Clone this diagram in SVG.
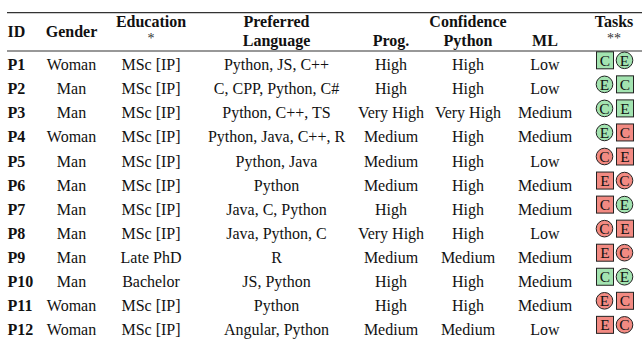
<svg xmlns="http://www.w3.org/2000/svg" width="642" height="341" viewBox="0 0 642 341">
<style>
text{font-family:"Liberation Serif","Times New Roman",serif;font-size:16px;fill:#111}
.h{font-weight:bold}
.m{text-anchor:middle}
.l{text-anchor:start}
.st{font-size:14px;font-weight:normal;fill:#333}
.rule{stroke:#333;stroke-width:1.2}
.g{fill:#a3e3b0;stroke:#222;stroke-width:1}
.r{fill:#f28a82;stroke:#222;stroke-width:1}
.ic{font-size:15.5px;text-anchor:middle}
</style>
<rect width="642" height="341" fill="#fff"/>
<g id="rules">
<line class="rule" x1="7" y1="12.6" x2="642" y2="12.6"/>
<line class="rule" x1="7" y1="51" x2="642" y2="51"/>
</g>
<g id="header">
<text class="h l" x="7.5" y="36.5">ID</text>
<text class="h m" x="71.5" y="36.5">Gender</text>
<text class="h m" x="151" y="27">Education</text>
<text class="st m" x="151" y="43">*</text>
<text class="h m" x="276.5" y="27">Preferred</text>
<text class="h m" x="276.5" y="46">Language</text>
<text class="h m" x="468" y="27">Confidence</text>
<text class="h m" x="391" y="46">Prog.</text>
<text class="h m" x="468" y="46">Python</text>
<text class="h m" x="545" y="46">ML</text>
<text class="h m" x="614" y="27">Tasks</text>
<text class="st m" x="614" y="43">**</text>
</g>
<g id="row1" transform="translate(0,70.3)">
<text class="h l" x="7.5" y="0">P1</text><text class="m" x="71.5" y="0">Woman</text><text class="m" x="151" y="0">MSc [IP]</text><text class="m" x="276.5" y="0">Python, JS, C++</text><text class="m" x="391" y="0">High</text><text class="m" x="468" y="0">High</text><text class="m" x="545" y="0">Low</text>
<rect class="g" x="596.5" y="-18.5" width="17" height="17"/><text class="ic" x="605" y="-4.5">C</text>
<circle class="g" cx="624.5" cy="-10" r="8.3"/><text class="ic" x="624.5" y="-4.5">E</text>
</g>
<g id="row2" transform="translate(0,94.35)">
<text class="h l" x="7.5" y="0">P2</text><text class="m" x="71.5" y="0">Man</text><text class="m" x="151" y="0">MSc [IP]</text><text class="m" x="276.5" y="0">C, CPP, Python, C#</text><text class="m" x="391" y="0">High</text><text class="m" x="468" y="0">High</text><text class="m" x="545" y="0">Low</text>
<circle class="g" cx="604.5" cy="-10" r="8.3"/><text class="ic" x="604.5" y="-4.5">E</text>
<rect class="g" x="616.5" y="-18.5" width="17" height="17"/><text class="ic" x="625" y="-4.5">C</text>
</g>
<g id="row3" transform="translate(0,118.4)">
<text class="h l" x="7.5" y="0">P3</text><text class="m" x="71.5" y="0">Man</text><text class="m" x="151" y="0">MSc [IP]</text><text class="m" x="276.5" y="0">Python, C++, TS</text><text class="m" x="391" y="0">Very High</text><text class="m" x="468" y="0">Very High</text><text class="m" x="545" y="0">Medium</text>
<circle class="g" cx="604.5" cy="-10" r="8.3"/><text class="ic" x="604.5" y="-4.5">C</text>
<rect class="g" x="616.5" y="-18.5" width="17" height="17"/><text class="ic" x="625" y="-4.5">E</text>
</g>
<g id="row4" transform="translate(0,142.45)">
<text class="h l" x="7.5" y="0">P4</text><text class="m" x="71.5" y="0">Woman</text><text class="m" x="151" y="0">MSc [IP]</text><text class="m" x="276.5" y="0">Python, Java, C++, R</text><text class="m" x="391" y="0">Medium</text><text class="m" x="468" y="0">High</text><text class="m" x="545" y="0">Medium</text>
<circle class="g" cx="604.5" cy="-10" r="8.3"/><text class="ic" x="604.5" y="-4.5">E</text>
<rect class="r" x="616.5" y="-18.5" width="17" height="17"/><text class="ic" x="625" y="-4.5">C</text>
</g>
<g id="row5" transform="translate(0,166.5)">
<text class="h l" x="7.5" y="0">P5</text><text class="m" x="71.5" y="0">Man</text><text class="m" x="151" y="0">MSc [IP]</text><text class="m" x="276.5" y="0">Python, Java</text><text class="m" x="391" y="0">Medium</text><text class="m" x="468" y="0">High</text><text class="m" x="545" y="0">Low</text>
<circle class="r" cx="604.5" cy="-10" r="8.3"/><text class="ic" x="604.5" y="-4.5">C</text>
<rect class="r" x="616.5" y="-18.5" width="17" height="17"/><text class="ic" x="625" y="-4.5">E</text>
</g>
<g id="row6" transform="translate(0,190.55)">
<text class="h l" x="7.5" y="0">P6</text><text class="m" x="71.5" y="0">Man</text><text class="m" x="151" y="0">MSc [IP]</text><text class="m" x="276.5" y="0">Python</text><text class="m" x="391" y="0">Medium</text><text class="m" x="468" y="0">High</text><text class="m" x="545" y="0">Medium</text>
<rect class="r" x="596.5" y="-18.5" width="17" height="17"/><text class="ic" x="605" y="-4.5">E</text>
<circle class="r" cx="624.5" cy="-10" r="8.3"/><text class="ic" x="624.5" y="-4.5">C</text>
</g>
<g id="row7" transform="translate(0,214.6)">
<text class="h l" x="7.5" y="0">P7</text><text class="m" x="71.5" y="0">Man</text><text class="m" x="151" y="0">MSc [IP]</text><text class="m" x="276.5" y="0">Java, C, Python</text><text class="m" x="391" y="0">High</text><text class="m" x="468" y="0">High</text><text class="m" x="545" y="0">Medium</text>
<rect class="r" x="596.5" y="-18.5" width="17" height="17"/><text class="ic" x="605" y="-4.5">C</text>
<circle class="g" cx="624.5" cy="-10" r="8.3"/><text class="ic" x="624.5" y="-4.5">E</text>
</g>
<g id="row8" transform="translate(0,238.65)">
<text class="h l" x="7.5" y="0">P8</text><text class="m" x="71.5" y="0">Man</text><text class="m" x="151" y="0">MSc [IP]</text><text class="m" x="276.5" y="0">Java, Python, C</text><text class="m" x="391" y="0">Very High</text><text class="m" x="468" y="0">High</text><text class="m" x="545" y="0">Low</text>
<circle class="r" cx="604.5" cy="-10" r="8.3"/><text class="ic" x="604.5" y="-4.5">C</text>
<rect class="r" x="616.5" y="-18.5" width="17" height="17"/><text class="ic" x="625" y="-4.5">E</text>
</g>
<g id="row9" transform="translate(0,262.7)">
<text class="h l" x="7.5" y="0">P9</text><text class="m" x="71.5" y="0">Man</text><text class="m" x="151" y="0">Late PhD</text><text class="m" x="276.5" y="0">R</text><text class="m" x="391" y="0">Medium</text><text class="m" x="468" y="0">Medium</text><text class="m" x="545" y="0">Medium</text>
<rect class="r" x="596.5" y="-18.5" width="17" height="17"/><text class="ic" x="605" y="-4.5">E</text>
<circle class="r" cx="624.5" cy="-10" r="8.3"/><text class="ic" x="624.5" y="-4.5">C</text>
</g>
<g id="row10" transform="translate(0,286.75)">
<text class="h l" x="7.5" y="0">P10</text><text class="m" x="71.5" y="0">Man</text><text class="m" x="151" y="0">Bachelor</text><text class="m" x="276.5" y="0">JS, Python</text><text class="m" x="391" y="0">High</text><text class="m" x="468" y="0">High</text><text class="m" x="545" y="0">Medium</text>
<rect class="g" x="596.5" y="-18.5" width="17" height="17"/><text class="ic" x="605" y="-4.5">C</text>
<circle class="g" cx="624.5" cy="-10" r="8.3"/><text class="ic" x="624.5" y="-4.5">E</text>
</g>
<g id="row11" transform="translate(0,310.8)">
<text class="h l" x="7.5" y="0">P11</text><text class="m" x="71.5" y="0">Woman</text><text class="m" x="151" y="0">MSc [IP]</text><text class="m" x="276.5" y="0">Python</text><text class="m" x="391" y="0">High</text><text class="m" x="468" y="0">High</text><text class="m" x="545" y="0">Medium</text>
<circle class="r" cx="604.5" cy="-10" r="8.3"/><text class="ic" x="604.5" y="-4.5">E</text>
<rect class="r" x="616.5" y="-18.5" width="17" height="17"/><text class="ic" x="625" y="-4.5">C</text>
</g>
<g id="row12" transform="translate(0,334.85)">
<text class="h l" x="7.5" y="0">P12</text><text class="m" x="71.5" y="0">Woman</text><text class="m" x="151" y="0">MSc [IP]</text><text class="m" x="276.5" y="0">Angular, Python</text><text class="m" x="391" y="0">Medium</text><text class="m" x="468" y="0">Medium</text><text class="m" x="545" y="0">Low</text>
<rect class="r" x="596.5" y="-18.5" width="17" height="17"/><text class="ic" x="605" y="-4.5">E</text>
<circle class="r" cx="624.5" cy="-10" r="8.3"/><text class="ic" x="624.5" y="-4.5">C</text>
</g>
</svg>
